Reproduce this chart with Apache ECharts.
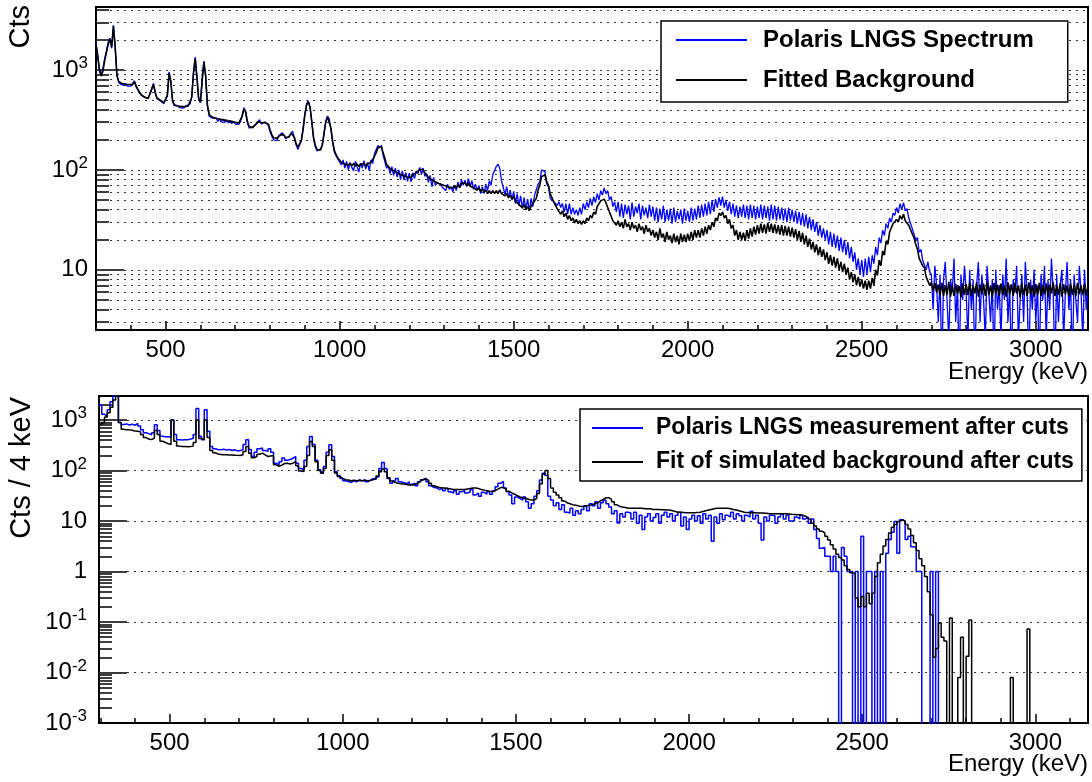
<!DOCTYPE html>
<html>
<head>
<meta charset="utf-8">
<script src="https://cdn.jsdelivr.net/npm/echarts@6/dist/echarts.min.js"></script>
<style>html,body{margin:0;padding:0;background:#fff}#chart{width:1092px;height:782px}</style>
</head>
<body>
<div id="chart"></div>
<script>
// ---------------- DATA ----------------
// Upper panel: spectrum sampled every 5 keV starting at 300 keV
const topStartE = 300, topStepE = 5;
const topMeasName = 'Polaris LNGS Spectrum';
const topFitName = 'Fitted Background';
const topMeas = [
1850,1350,980,890,1050,1300,1550,1900,2080,1650,2800,1750,880,760,720,745,700,735,690,720,
690,725,780,680,650,590,560,540,535,515,520,530,650,735,590,520,505,490,475,462,
470,550,960,780,480,440,428,440,420,432,415,428,440,430,455,540,950,1350,830,505,
470,820,1230,860,440,345,335,330,318,332,305,326,300,322,298,316,296,312,290,306,
288,300,285,302,352,420,370,296,262,258,270,268,285,300,318,288,278,302,296,280,
240,218,200,208,196,220,212,236,222,205,196,218,230,245,205,178,160,178,195,260,
365,455,490,420,300,205,172,155,150,162,175,232,305,345,325,255,185,150,138,128,
132,112,126,104,122,100,118,106,98,122,108,95,117,104,124,102,118,98,126,116,
145,140,176,168,176,140,134,104,110,92,108,88,104,85,100,80,98,79,94,77,
93,76,94,82,98,92,106,90,104,86,92,75,88,68,84,70,74,71,72,67,
70,62,72,64,68,60,70,62,76,66,80,70,79,68,82,68,78,64,72,62,
70,58,68,58,72,62,78,70,90,88,108,114,104,78,76,57,68,52,63,50,
61,46,58,44,55,41,53,40,51,39,52,43,56,54,72,76,100,100,96,72,
68,52,54,48,50,44,48,42,46,38,46,36,46,36,42,36,40,35,42,36,
46,40,48,42,52,44,54,47,58,50,62,56,66,58,62,50,54,43,48,38,
48,34,46,33,45,36,44,32,47,34,43,37,46,32,44,35,42,33,45,34,
43,31,42,30,41,32,44,30,40,31,41,29,42,30,39,32,40,29,41,31,
39,30,42,31,41,32,44,33,45,34,46,35,48,36,50,38,51,42,53,44,
54,42,50,39,48,36,46,34,44,33,43,34,45,33,44,32,45,33,44,32,
43,33,45,32,44,33,43,31,45,32,44,31,43,32,42,31,41,30,42,31,
40,30,39,29,38,28,37,27,36,26,34,25,32,24,30,22,28,21,26,20,
25,18,24,17,23,16.5,22,15.5,21,15,20,14,19,13,17,12,15,10,13,9,
12.5,8.5,13,9,13.5,9.5,14,11.5,17,14,21,18.5,25,22,29,26,33,30,37,35,
42,37,46,40,47,39,41,33,33,26,27,20,21,15,16,12.5,13,10,12,9.5,
9,4,11,7,3,9,1,8,12,5,2,8,6,13,3,7,1,9,5,11,
6,2,10,4,8,1,7,12,3,9,5,2,11,6,3,8,1,10,4,7,
2,9,5,13,3,7,1,8,6,11,2,5,9,3,12,6,1,8,4,10,
3,7,1,9,5,11,2,8,4,13,6,1,9,3,7,10,2,6,12,4,
8,1,9,5,3,11,6,2,10,4,7
];
const topFit = [
1800,1400,1000,870,980,1250,1500,1800,2050,1700,2750,1700,900,770,740,730,745,720,730,715,
705,715,765,700,645,600,565,548,532,525,522,545,640,720,600,525,510,498,482,470,
468,560,930,760,495,448,440,436,432,430,430,430,433,437,452,530,920,1300,850,520,
475,780,1200,880,450,362,345,336,331,328,325,322,320,318,315,313,310,308,306,303,
300,297,294,300,345,410,385,305,272,262,265,276,290,305,315,296,285,298,305,288,
252,226,210,205,208,214,224,232,224,210,204,214,234,240,212,182,168,174,198,255,
355,445,482,425,305,212,176,160,153,158,178,228,300,340,332,262,192,156,141,132,
128,119,122,114,119,111,117,110,116,109,115,108,114,109,115,109,116,111,118,122,
137,148,167,170,170,148,130,113,110,103,104,98,100,94,96,90,92,87,90,85,
88,84,89,85,94,94,101,98,101,93,92,84,85,79,81,76,78,73,76,71,
74,69,72,67,70,66,70,66,71,67,73,70,74,70,74,69,72,66,68,63,
66,61,64,60,63,58,62,58,62,58,62,58,63,58,60,55,58,53,56,51,
54,49,51,45,47,42,45,40,43,39,43,42,49,52,63,70,86,88,89,76,
70,58,56,48,48,41,42,36,39,34,37,32,35,31,33,29.5,32,29,31,28.5,
31,29,33,31,35,33,38,36,43,42,49,47,51,47,45,38,37,31,32,28,
31,27,30,26,32,27,29,25,30,26,28,24,29,25,27,23,28,24,26,22,
25,21,24,20,26,21,23,19,24,20,22,18.5,23,19,22,18,23,19,22.5,19,
23,19.5,24,20,25,21,25,21,26,22,27,23,28,25,30,27,33,31,37,35,
38,33,35,29,32,26,28,22,25,20,24,20,23.5,19.5,25,20.5,26,21.5,27,22.5,
28,23,29,23.5,28.5,23,29.5,24,29,23.5,28.5,23,28,22.5,28,22,27.5,22,27,21.5,
26.5,21,25.5,20,24.5,19,23.5,18,22,17,20.5,16,19,15,18,14,17,13.5,16,12.5,
15,11.5,14,11,13.5,10.5,13,10,12,9.5,11.5,9,10.5,8,9.5,7.5,9,7,8.5,6.8,
8,6.5,7.8,6.3,7.8,6.5,8.3,7,10,8.8,12.5,11,15.5,14,19.5,18,24,23,29,28,
32,30,35,32,36,31,32,28,27,23,21,18,16,13,13.5,11,10.5,8.5,8.5,7,
7.5,6.2,7.4,6,7.1,5.6,7.4,5.5,7,5.6,7.6,5.4,7,5.5,7.2,5.8,6.9,5.3,7.3,5.6,
7.2,5.6,7.4,5.5,7,5.8,7.5,5.4,7.1,5.7,7.3,5.5,7.6,5.6,7,5.4,7.4,5.8,7.1,5.5,
7.3,5.6,7,5.4,7.5,5.7,7.2,5.5,7.4,5.8,7,5.3,7.3,5.6,7.1,5.5,7.5,5.7,7,5.4,
7.2,5.6,7.4,5.5,7,5.7,7.3,5.4,7.1,5.8,7.5,5.5,7,5.6,7.3,5.4,7.2,5.7,7,5.5,
7.3,5.6,7.1,5.5,7.4,5.7,7,5.6,7.2,5.5,7
];

// Lower panel: histogram, bins of 8 keV starting at 296 keV (counts per 4 keV)
const botStartE = 296, botBinE = 8;
const botMeasName = 'Polaris LNGS measurement after cuts';
const botFitName = 'Fit of simulated background after cuts';
const botMeas = [
2000,1300,1200,1600,2300,3000,3600,900,820,840,800,830,790,860,760,640,560,540,510,560,810,620,480,470,470,
460,1000,520,410,405,410,408,420,430,520,1700,480,410,1600,600,300,270,262,258,265,255,262,250,258,245,
250,260,330,408,260,190,230,270,279,250,240,270,230,140,130,150,177,160,165,175,190,140,110,104,160,
300,474,330,160,104,93,120,230,325,190,95,80,70,63,61,58,63,60,65,62,66,60,64,70,66,
75,110,145,110,70,56,62,70,60,58,55,60,53,56,50,60,66,71,60,50,46,45,42,45,40,
44,38,36,40,34,38,40,36,38,42,33,36,31,37,34,38,34,40,48,56,61,45,38,33,22,
30,28,26,30,24,18,22,31,40,65,89,80,31,26,20,23,17,21,15,14.4,18,13,16,14,17,
20,16,22,20,24,18,23,26,22,19,14,16,9.2,14,12,15,14.4,11,15,9,13,6.8,12,14,10,
11.8,14,9,13,15,12,14,10,13,15,8,12,6.8,11,13,10,12.7,9,14,11,13,4,12,9,14,
10.6,13,12,15,11,14,12.7,10,13,12,15.7,11,13,9,4.2,12,10,13,12.7,9,12,14,11,13,10,
10,12,11,13,11,12,9,11,6.8,4.5,2.9,3,2,2,1,2,1,0,3,2,1,1,0,1,0,
5,0,1,1,0,1,0,1,0,2.3,4.3,6,9.8,2.3,10.6,10,4.3,5,3.1,3,1,1,0,0,0,
1,0,1,0,0,0,0,0,0,0,0,0,0,0,0,0,0,0,0,0,0,0,0,0,0,
0,0,0,0,0,0,0,0,0,0,0,0,0,0,0,0,0,0,0,0,0,0,0,0,0,
0,0,0,0,0,0,0
];
const botFit = [
810,900,1150,1400,1800,2500,3500,900,660,640,640,630,610,600,590,520,450,420,410,440,620,520,380,360,340,
330,1000,380,305,300,300,298,300,305,360,1000,430,410,1000,450,250,225,212,207,205,205,204,203,202,200,
198,205,240,300,220,180,190,210,222,205,190,195,200,130,122,128,138,140,135,140,151,125,98,96,120,
200,377,300,150,100,89,110,200,258,160,90,76,70,66,65,63,64,63,64,63,64,63,64,66,70,
78,95,107,95,72,62,58,56,55,54,53,52,52,53,56,61,66,68,64,56,50,48,46,45,45,
44,43,42,42,42,42,42,43,44,45,45,44,42,41,40,39,38.5,40,43,46,46,43,39,36,34,
32,30,29,28,27,26,26,28,35,55,85,100,70,45,37,33,29,25,23,22,21,20.5,20,19.5,19.5,
20,20.5,21,22,23,25,27,29,29,27,24,21,19.5,19,18.5,18,18,18,18,18,18,17.5,17.5,17.5,17,
17,17,16.8,16.8,16.5,16.5,16,15.5,15,15,14.8,14.6,14.6,14.6,14.6,14.8,15,15.5,16,16.5,17,17.5,18,18,18,
18,18,17.5,17,16.5,16,15.5,15,14.8,14.6,14.6,14.6,14.5,14.5,14.5,14.2,14,14,14,14,14,14,14,13.8,13.6,
13.5,13.4,13.4,13,12.5,11.5,10.5,9,8,7,6.3,5.8,5,4.2,3.4,2.8,2.2,1.9,1.7,1.3,1.1,0.95,0.9,0.3,0.2,
0.32,0.2,0.37,0.23,0.37,0.8,1.5,2.2,3.2,4.3,5.8,7.5,8.5,9.8,10.6,10,8.5,7,5.2,3.7,2.6,1.8,1.3,0.8,0.4,
0.14,0.02,0.03,0.096,0.05,0.042,0,0.12,0,0,0.008,0.05,0,0.021,0.11,0,0,0,0,0,0,0,0,0,0,
0,0,0,0,0.008,0,0,0,0,0,0.073,0,0,0,0,0,0,0,0,0,0,0,0,0,0,
0,0,0,0,0,0,0
];

// Axis tick values
const xMajorTicks = [500, 1000, 1500, 2000, 2500, 3000];
const xMinorStep = 100;
const topDecades = [10, 100, 1000];
const botDecades = [0.001, 0.01, 0.1, 1, 10, 100, 1000];
const xTitle = 'Energy (keV)';
const topYTitle = 'Cts';
const botYTitle = 'Cts / 4 keV';

// ---------------- HELPERS ----------------
const FONT = '"Liberation Sans", Arial, Helvetica, sans-serif';
const TOP_RANGE = { xmin: 300, xmax: 3150, ymin: 2.5, ymax: 4270 };
const BOT_RANGE = { xmin: 296, xmax: 3152, ymin: 0.001, ymax: 3000 };
const ZERO_FLOOR = 1e-6; // empty bins drawn below the log axis (clipped)

function minorX(lo, hi) {
  const out = [];
  for (let v = Math.ceil(lo / xMinorStep) * xMinorStep; v <= hi; v += xMinorStep) {
    if (v % 500 !== 0) out.push(v);
  }
  return out;
}
function logMultiples(decades, lo, hi, includeDecade) {
  const out = [];
  decades.concat([decades[0] / 10]).forEach(d => {
    for (let m = includeDecade ? 1 : 2; m <= 9; m++) {
      const v = +(m * d).toPrecision(6);
      if (v > lo * 1.0001 && v < hi * 0.9999) out.push(v);
    }
  });
  return out.sort((a, b) => a - b);
}
function logLabel(v) {
  const l = Math.log10(v);
  const e = Math.round(l);
  if (Math.abs(l - e) > 1e-6) return '';
  if (e === 0) return '1';
  if (e === 1) return '10';
  return '10{s|' + e + '}';
}
const topPts = arr => arr.map((v, i) => [topStartE + i * topStepE, v]);
function histPts(arr) {
  const pts = arr.map((v, i) => [botStartE + i * botBinE, v > 0 ? v : ZERO_FLOOR]);
  pts.push([botStartE + arr.length * botBinE, pts[pts.length - 1][1]]);
  return pts;
}

const topMinorY = logMultiples(topDecades, TOP_RANGE.ymin, TOP_RANGE.ymax, false);
const topGridY = logMultiples(topDecades, TOP_RANGE.ymin, TOP_RANGE.ymax, true);
const botMinorY = logMultiples(botDecades, BOT_RANGE.ymin, BOT_RANGE.ymax, false);
const botGridY = botDecades.filter(v => v > BOT_RANGE.ymin && v < BOT_RANGE.ymax);

function xAxes(gridIndex, R, labelMargin, namePad) {
  return [{
    type: 'value', gridIndex, min: R.xmin, max: R.xmax, position: 'bottom',
    axisLine: { show: true, onZero: false, lineStyle: { color: '#000', width: 2 } },
    axisTick: { show: true, inside: true, length: 9, customValues: xMajorTicks, lineStyle: { color: '#000', width: 1.5 } },
    axisLabel: { show: true, customValues: xMajorTicks, formatter: v => String(v), fontSize: 24, color: '#000', fontFamily: FONT, margin: labelMargin },
    splitLine: { show: false },
    name: xTitle, nameLocation: 'end', nameGap: 0, nameMoveOverlap: false,
    nameTextStyle: { fontSize: 24, color: '#000', fontFamily: FONT, align: 'right', verticalAlign: 'top', lineHeight: 24, padding: [namePad, 0, 0, 0] }
  }, {
    type: 'value', gridIndex, min: R.xmin, max: R.xmax, position: 'bottom',
    axisLine: { show: false, onZero: false },
    axisTick: { show: true, inside: true, length: 5, customValues: minorX(R.xmin, R.xmax), lineStyle: { color: '#000', width: 1.5 } },
    axisLabel: { show: false }, splitLine: { show: false }
  }];
}
function yAxes(gridIndex, R, decades, minors, labelMargin) {
  return [{
    type: 'log', logBase: 10, gridIndex, min: R.ymin, max: R.ymax, position: 'left',
    axisLine: { show: true, onZero: false, lineStyle: { color: '#000', width: 2 } },
    axisTick: { show: true, inside: true, length: 28, customValues: decades, lineStyle: { color: '#000', width: 1.5 } },
    axisLabel: {
      show: true, customValues: decades, formatter: logLabel, fontSize: 24, lineHeight: 30,
      color: '#000', fontFamily: FONT, margin: labelMargin,
      rich: { s: { fontSize: 17, lineHeight: 17, verticalAlign: 'top', color: '#000', fontFamily: FONT } }
    },
    splitLine: { show: false }, minorTick: { show: false }
  }, {
    type: 'log', logBase: 10, gridIndex, min: R.ymin, max: R.ymax, position: 'left',
    axisLine: { show: false, onZero: false },
    axisTick: { show: true, inside: true, length: 13, customValues: minors, lineStyle: { color: '#000', width: 1.5 } },
    axisLabel: { show: false }, splitLine: { show: false }
  }];
}
function gridLineSeries(xi, yi, values) {
  return {
    type: 'line', xAxisIndex: xi, yAxisIndex: yi, data: [], silent: true, z: 1,
    markLine: {
      silent: true, symbol: ['none', 'none'], animation: false, z: 1,
      label: { show: false },
      lineStyle: { color: '#333', type: [2, 5], width: 1 },
      emphasis: { disabled: true },
      data: values.map(v => ({ yAxis: v }))
    }
  };
}

const chart = echarts.init(document.getElementById('chart'), null, { renderer: 'canvas' });
chart.setOption({
  animation: false,
  backgroundColor: '#fff',
  textStyle: { fontFamily: FONT, color: '#000' },
  grid: [
    { left: 96, top: 7, width: 992, height: 323, show: true, borderColor: '#000', borderWidth: 2, backgroundColor: 'transparent', outerBoundsMode: 'none', containLabel: false },
    { left: 99, top: 396, width: 989, height: 327, show: true, borderColor: '#000', borderWidth: 2, backgroundColor: 'transparent', outerBoundsMode: 'none', containLabel: false }
  ],
  xAxis: [].concat(xAxes(0, TOP_RANGE, 8, 30), xAxes(1, BOT_RANGE, 8, 29)),
  yAxis: [].concat(yAxes(0, TOP_RANGE, topDecades, topMinorY, 8), yAxes(1, BOT_RANGE, botDecades, botMinorY, 12)),
  legend: [{
    data: [topMeasName, topFitName], orient: 'vertical', left: 661, top: 21,
    icon: 'rect', itemWidth: 71, itemHeight: 2, itemGap: 12, padding: [5, 34, 8, 15],
    borderColor: '#000', borderWidth: 1.5, backgroundColor: '#fff', selectedMode: false,
    textStyle: { fontSize: 24, fontWeight: 'bold', color: '#000', fontFamily: FONT, lineHeight: 28, padding: [0, 0, 0, 11] }
  }, {
    data: [botMeasName, botFitName], orient: 'vertical', left: 580, top: 409,
    icon: 'rect', itemWidth: 51, itemHeight: 2, itemGap: 8, padding: [6, 8, 6, 12],
    borderColor: '#000', borderWidth: 1.5, backgroundColor: '#fff', selectedMode: false,
    textStyle: { fontSize: 23, fontWeight: 'bold', color: '#000', fontFamily: FONT, lineHeight: 26, padding: [0, 0, 0, 8] }
  }],
  graphic: [
    { type: 'text', x: 21, y: 5, rotation: Math.PI / 2, silent: true,
      style: { text: topYTitle, fontSize: 29, fontFamily: FONT, fill: '#000', align: 'right', verticalAlign: 'middle', textAlign: 'right', textVerticalAlign: 'middle' } },
    { type: 'text', x: 22, y: 397, rotation: Math.PI / 2, silent: true,
      style: { text: botYTitle, fontSize: 29, fontFamily: FONT, fill: '#000', align: 'right', verticalAlign: 'middle', textAlign: 'right', textVerticalAlign: 'middle' } }
  ],
  series: [
    gridLineSeries(0, 0, topGridY),
    gridLineSeries(2, 2, botGridY),
    { name: topMeasName, type: 'line', xAxisIndex: 0, yAxisIndex: 0, data: topPts(topMeas),
      showSymbol: false, symbol: 'none', clip: true, z: 3, color: '#0000ff',
      lineStyle: { color: '#0000ff', width: 1.3 }, itemStyle: { color: '#0000ff' }, emphasis: { disabled: true } },
    { name: topFitName, type: 'line', xAxisIndex: 0, yAxisIndex: 0, data: topPts(topFit),
      showSymbol: false, symbol: 'none', clip: true, z: 4, color: '#000',
      lineStyle: { color: '#000', width: 1.6 }, itemStyle: { color: '#000' }, emphasis: { disabled: true } },
    { name: botMeasName, type: 'line', step: 'end', xAxisIndex: 2, yAxisIndex: 2, data: histPts(botMeas),
      showSymbol: false, symbol: 'none', clip: true, z: 3, color: '#0000ff',
      lineStyle: { color: '#0000ff', width: 1.5 }, itemStyle: { color: '#0000ff' }, emphasis: { disabled: true } },
    { name: botFitName, type: 'line', step: 'end', xAxisIndex: 2, yAxisIndex: 2, data: histPts(botFit),
      showSymbol: false, symbol: 'none', clip: true, z: 4, color: '#000',
      lineStyle: { color: '#000', width: 1.5 }, itemStyle: { color: '#000' }, emphasis: { disabled: true } }
  ]
});
</script>
</body>
</html>
